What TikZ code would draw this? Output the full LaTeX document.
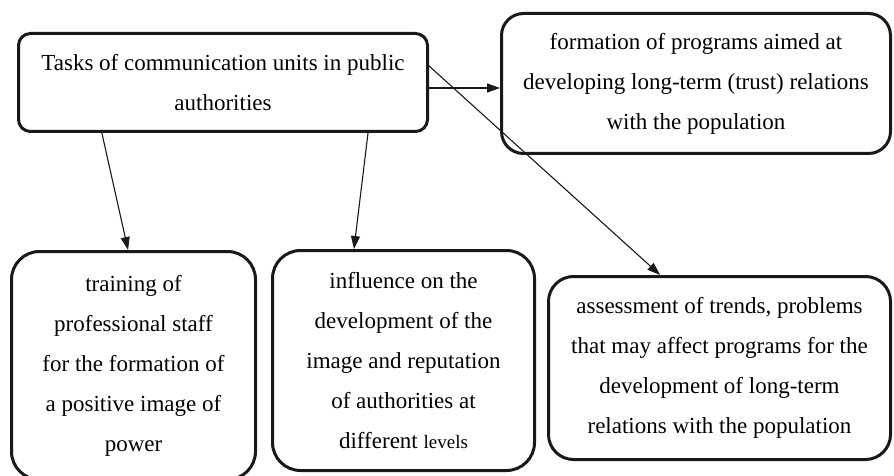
\documentclass[tikz,border=0pt]{standalone}
\usepackage{fontspec}
\setmainfont{Liberation Serif}
\usetikzlibrary{arrows.meta,calc}
\begin{document}
\begin{tikzpicture}[x=1pt,y=-1pt,
  box/.style={draw=black!90,line width=3pt,align=center,inner sep=0pt,
    font=\fontsize{23}{40}\selectfont},
  arr/.style={draw=black!90,line width=1.1pt,-{Triangle[length=13pt,width=9pt]}}]
\useasboundingbox (0,0) rectangle (894,476);
\node[box,rounded corners=12pt,minimum width=409pt,minimum height=98pt] (b1) at (223,82.5)
  {Tasks of communication units in public\\authorities};
\node[box,rounded corners=22pt,minimum width=389pt,minimum height=140pt] (b2) at (696,83.5)
  {formation of programs aimed at\\developing long-term (trust) relations\\with the population};
\node[box,rounded corners=28pt,minimum width=244pt,minimum height=228pt] (b3) at (133.5,365.5)
  {training of\\professional staff\\for the formation of\\a positive image of\\power};
\node[box,rounded corners=28pt,minimum width=262pt,minimum height=220pt] (b4) at (403.5,360.5)
  {influence on the\\development of the\\image and reputation\\of authorities at\\different {\fontsize{19}{40}\selectfont levels}};
\node[box,rounded corners=25pt,minimum width=342pt,minimum height=183pt] (b5) at (719.5,368)
  {assessment of trends, problems\\that may affect programs for the\\development of long-term\\relations with the population};
\draw[arr] ($(b1.south west)!0.206!(b1.south east)$) -- ($(b3.north west)!0.478!(b3.north east)$);
\draw[arr] ($(b1.south west)!0.852!(b1.south east)$) -- ($(b4.north west)!0.313!(b4.north east)$);
\draw[arr] ($(b1.east)+(0,5.5)$) -- ($(b2.west)+(0,4.5)$);
\draw[arr] ($(b1.east)+(-1,-17.5)$) -- ($(b5.north west)!0.328!(b5.north east)$);
\end{tikzpicture}
\end{document}
